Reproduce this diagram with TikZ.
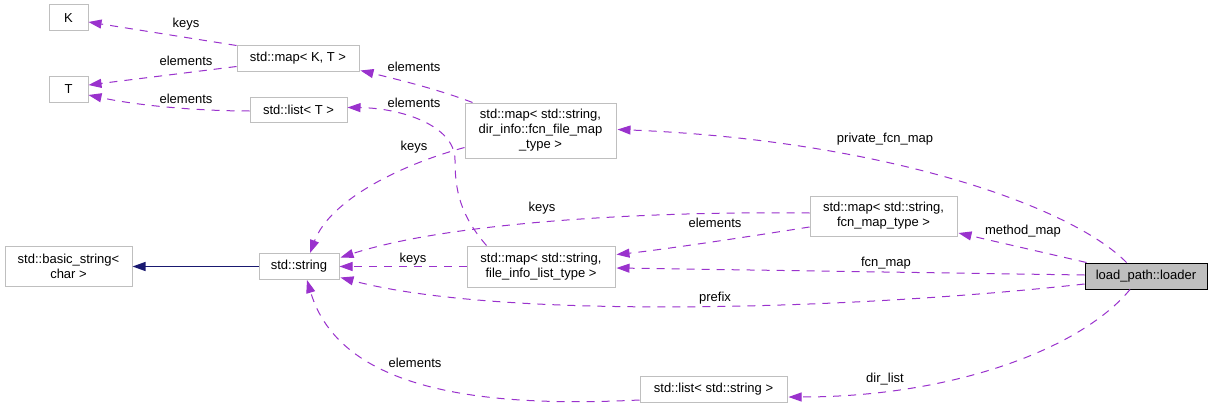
\documentclass[tikz,border=0pt]{standalone}
\usepackage{fontspec}
\setmainfont{Liberation Sans}
\usetikzlibrary{arrows.meta,calc}
\definecolor{boxgray}{HTML}{BFBFBF}
\definecolor{relpurple}{HTML}{9A32CD}
\definecolor{navyblue}{HTML}{191970}
\begin{document}
\begin{tikzpicture}[x=1pt,y=-1pt,
  font=\fontsize{13}{15}\selectfont,
  box/.style={draw=boxgray, line width=1pt, fill=white, inner sep=0pt, align=center},
  mainbox/.style={draw=black, line width=1pt, fill=boxgray, inner sep=0pt, align=center},
  rel/.style={draw=relpurple, line width=1pt, dash pattern=on 8pt off 7pt, -{Triangle[length=13pt,width=9pt]}},
  inh/.style={draw=navyblue, line width=1.2pt, -{Triangle[length=13pt,width=9pt]}},
  lbl/.style={inner sep=0pt}]
\fill[white] (0,0) rectangle (1212,412);
\useasboundingbox (0,0) rectangle (1212,412);

% nodes
\node[box, minimum width=39pt, minimum height=26pt] (K) at (68.5,18) {K};
\node[box, minimum width=39pt, minimum height=26pt] (T) at (68.5,89) {T};
\node[box, minimum width=122pt, minimum height=25pt] (mapKT) at (298,58.5) {std::map< K, T >};
\node[box, minimum width=97pt, minimum height=25pt] (listT) at (298.5,109.5) {std::list< T >};
\node[box, minimum width=151pt, minimum height=55pt] (dirinfo) at (540.5,130.5) {std::map< std::string,\\ dir\_info::fcn\_file\_map\\ \_type >};
\node[box, minimum width=127pt, minimum height=40pt] (basicstr) at (68.5,266.5) {std::basic\_string<\\ char >};
\node[box, minimum width=80pt, minimum height=26pt] (string) at (299,266.5) {std::string};
\node[box, minimum width=148pt, minimum height=41pt] (fileinfo) at (541,266.5) {std::map< std::string,\\ file\_info\_list\_type >};
\node[box, minimum width=147pt, minimum height=40pt] (methodmap) at (883.5,216) {std::map< std::string,\\ fcn\_map\_type >};
\node[mainbox, minimum width=122pt, minimum height=26pt] (loader) at (1146,276) {load\_path::loader};
\node[box, minimum width=147pt, minimum height=26pt] (liststr) at (713.5,389) {std::list< std::string >};

% edges
\draw[rel] (mapKT.north west) -- ($(K.east)+(0,4)$);
\draw[rel] ($(mapKT.west)+(0,8)$) -- ($(T.east)+(0,-4)$);
\draw[rel] ($(listT.west)+(0,1.5)$) .. controls (200,111) and (140,106) .. ($(T.east)+(0,6)$);
\draw[rel] ($(dirinfo.north west)+(8,0)$) .. controls (440,90) and (400,80) .. ($(mapKT.south east)+(1,-1)$);
\draw[rel] ($(fileinfo.north west)+(20,0)$) .. controls (460,215) and (455,190) .. (455,160) .. controls (455,125) and (400,108) .. ($(listT.east)+(0,-2)$);
\draw[rel] ($(dirinfo.west)+(0,17)$) .. controls (400,165) and (330,200) .. ($(string.north)+(11,0)$);
\draw[rel] ($(methodmap.west)+(0,-3)$) .. controls (650,211) and (450,222) .. ($(string.east)+(1,-9)$);
\draw[rel] ($(methodmap.west)+(0,11)$) .. controls (740,238) and (660,250) .. ($(fileinfo.east)+(1,-12)$);
\draw[rel] (fileinfo.west) -- (string.east);
\draw[inh] (string.west) -- (basicstr.east);
\draw[rel] ($(loader.north west)+(42,0)$) .. controls (1070,205) and (880,140) .. ($(dirinfo.east)+(1,-1)$);
\draw[rel] ($(loader.north west)+(2,0)$) -- ($(methodmap.east)+(1,17)$);
\draw[rel] ($(loader.west)+(0,-1)$) -- ($(fileinfo.east)+(1,1.5)$);
\draw[rel] ($(loader.west)+(0,8)$) .. controls (850,310) and (500,320) .. ($(string.east)+(1,11)$);
\draw[rel] ($(loader.south)+(-16,0)$) .. controls (1080,350) and (950,397) .. ($(liststr.east)+(1,8)$);
\draw[rel] ($(liststr.west)+(0,11)$) .. controls (480,408) and (340,390) .. ($(string.south)+(8,0)$);

% labels
\node[lbl] (l1) at (186,24) {keys};
\node[lbl] (l2) at (186,61) {elements};
\node[lbl] (l3) at (186,99) {elements};
\node[lbl] (l4) at (414,67) {elements};
\node[lbl] (l5) at (414,103) {elements};
\node[lbl] (l6) at (414,147) {keys};
\node[lbl] (l7) at (542,208) {keys};
\node[lbl] (l8) at (715,223) {elements};
\node[lbl] (l9) at (413,259) {keys};
\node[lbl] (l10) at (885,139) {private\_fcn\_map};
\node[lbl] (l11) at (1023,231) {method\_map};
\node[lbl] (l12) at (886,263) {fcn\_map};
\node[lbl] (l13) at (715,298) {prefix};
\node[lbl] (l14) at (885,379) {dir\_list};
\node[lbl] (l15) at (415,363) {elements};
\end{tikzpicture}
\end{document}
